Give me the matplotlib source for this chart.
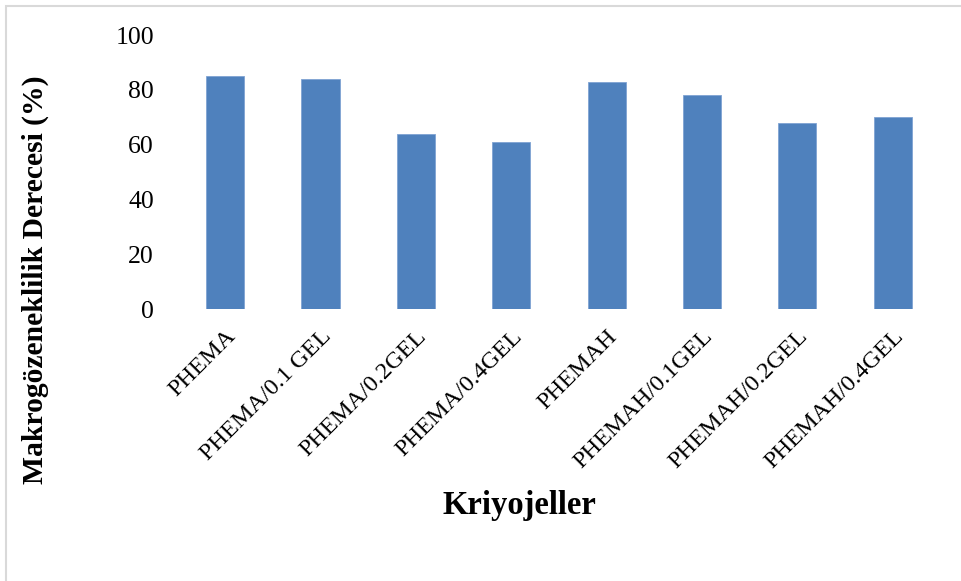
import matplotlib.pyplot as plt
from matplotlib.patches import Rectangle

plt.rcParams['font.family'] = ['Liberation Serif', 'DejaVu Serif']

categories = ["PHEMA", "PHEMA/0.1 GEL", "PHEMA/0.2GEL", "PHEMA/0.4GEL",
              "PHEMAH", "PHEMAH/0.1GEL", "PHEMAH/0.2GEL", "PHEMAH/0.4GEL"]
values = [85, 84, 64, 61, 83, 78, 68, 70]
yticks = [0, 20, 40, 60, 80, 100]

col = "#4F81BD"

fig = plt.figure(figsize=(9.62, 5.81), dpi=100)
ax = fig.add_axes([0.1845, 0.468, 0.793, 0.4716])

x = range(len(categories))
ax.bar(x, values, width=0.4, color=col, edgecolor="#7FA3D3", linewidth=0.6)
ax.set_xlim(-0.5, len(categories) - 0.5)
ax.set_ylim(0, 100)
ax.set_yticks(yticks)
ax.set_yticklabels([str(t) for t in yticks], fontsize=18.5)
ax.set_xticks(list(x))
ax.set_xticklabels(categories, fontsize=17.5, rotation=45, ha="right",
                   va="top", rotation_mode="anchor")
ax.tick_params(axis="both", length=0)
ax.tick_params(axis="y", pad=17)
ax.tick_params(axis="x", pad=12)
for s in ax.spines.values():
    s.set_visible(False)

fig.text(0.037, 0.518, "Makrogözeneklilik Derecesi (%)", rotation=90,
         fontsize=21.3, fontweight="bold", ha="center", va="center")
fig.text(0.54, 0.13, "Kriyojeller", fontsize=23.5, fontweight="bold",
         ha="center", va="center")

# chart frame (cropped at right and bottom)
fig.patches.append(Rectangle((6/962, -0.1), 1.2, 1 - 6/581 + 0.1,
                             transform=fig.transFigure, fill=False,
                             edgecolor="#D9D9D9", linewidth=1.5))

fig.savefig("out.png", dpi=100)
